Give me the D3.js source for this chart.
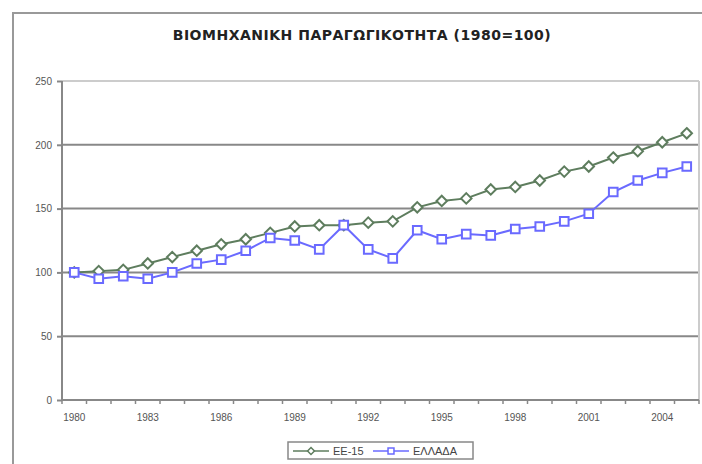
<!DOCTYPE html>
<html>
<head>
<meta charset="utf-8">
<script src="https://cdn.jsdelivr.net/npm/d3@7"></script>
<style>
  body { margin: 0; background: #fff; }
  svg text { font-family: "Liberation Sans", Arial, sans-serif; fill: #333; }
</style>
</head>
<body>
<svg id="chart" width="702" height="464"></svg>
<script>
// years on the category axis
var years = d3.range(1980, 2006);
// index values, 1980 = 100
var eu15 = [100, 101, 102, 107, 112, 117, 122, 126, 131, 136, 137, 137, 139, 140,
            151, 156, 158, 165, 167, 172, 179, 183, 190, 195, 202, 209];
var greece = [100, 95, 97, 95, 100, 107, 110, 117, 127, 125, 118, 137, 118, 111,
              133, 126, 130, 129, 134, 136, 140, 146, 163, 172, 178, 183];
var yTicks = [0, 50, 100, 150, 200, 250];
var seriesNames = ["ΕΕ-15", "ΕΛΛΑΔΑ"];
var title = "ΒΙΟΜΗΧΑΝΙΚΗ ΠΑΡΑΓΩΓΙΚΟΤΗΤΑ (1980=100)";

var svg = d3.select("#chart");
var plotLeft = 62, plotRight = 699, plotTop = 81, plotBottom = 400;

// outer chart border
svg.append("rect").attr("x", 13).attr("y", 13).attr("width", 720).attr("height", 480)
    .attr("fill", "none").attr("stroke", "#999").attr("stroke-width", 2);

svg.append("text").attr("x", 362).attr("y", 40).attr("text-anchor", "middle")
    .style("font-family", "'DejaVu Sans', sans-serif")
    .style("font-size", "14px").style("font-weight", "bold").style("fill", "#222")
    .style("letter-spacing", "0.5px")
    .text(title);

var x = d3.scaleBand().domain(years).range([plotLeft, plotRight]);
var y = d3.scaleLinear().domain([0, 250]).range([plotBottom, plotTop]);

// gridlines
svg.selectAll("line.grid").data(yTicks.slice(1)).enter().append("line")
    .attr("class", "grid")
    .attr("x1", plotLeft).attr("x2", plotRight)
    .attr("y1", function(d){ return y(d); }).attr("y2", function(d){ return y(d); })
    .attr("stroke", function(d){ return d === 250 ? "#ccc" : "#888"; })
    .attr("stroke-width", 2);
// right border of plot area
svg.append("line").attr("x1", plotRight).attr("x2", plotRight).attr("y1", plotTop).attr("y2", plotBottom)
    .attr("stroke", "#ccc").attr("stroke-width", 2);

// y axis
var yAxis = d3.axisLeft(y).tickValues(yTicks).tickSize(5).tickPadding(5);
var gy = svg.append("g").attr("transform", "translate(" + plotLeft + ",0)").call(yAxis);
gy.selectAll("text").style("font-size", "10px").style("fill", "#555");
gy.selectAll("line, path").attr("stroke", "#888").attr("stroke-width", 2);
gy.select("path").attr("d", "M0," + plotTop + "V" + plotBottom);

// x axis: ticks between categories, labels every 3 years
var step = x.step();
var gx = svg.append("g").attr("transform", "translate(0," + plotBottom + ")");
gx.append("line").attr("x1", plotLeft).attr("x2", plotRight).attr("stroke", "#888").attr("stroke-width", 2);
gx.selectAll("line.tk").data(d3.range(years.length + 1)).enter().append("line")
    .attr("class", "tk")
    .attr("x1", function(i){ return plotLeft + i * step; })
    .attr("x2", function(i){ return plotLeft + i * step; })
    .attr("y1", 0).attr("y2", 4).attr("stroke", "#888").attr("stroke-width", 1.5);
gx.selectAll("text").data(years.filter(function(d, i){ return i % 3 === 0; })).enter().append("text")
    .attr("x", function(d){ return x(d) + x.bandwidth() / 2; })
    .attr("y", 21).attr("text-anchor", "middle")
    .style("font-size", "10px").style("fill", "#555")
    .text(function(d){ return d; });

var cx = function(d, i){ return x(years[i]) + x.bandwidth() / 2; };
var line = d3.line().x(cx).y(function(d){ return y(d); });

var diamond = d3.symbol().type(d3.symbolDiamond2).size(70);
var square = d3.symbol().type(d3.symbolSquare2).size(95);

function drawSeries(values, color, symbol) {
    svg.append("path").datum(values).attr("d", line)
        .attr("fill", "none").attr("stroke", color).attr("stroke-width", 2);
    svg.selectAll(null).data(values).enter().append("path")
        .attr("d", symbol)
        .attr("transform", function(d, i){ return "translate(" + cx(d, i) + "," + y(d) + ")"; })
        .attr("fill", "#fff").attr("stroke", color).attr("stroke-width", 2);
}
drawSeries(eu15, "#5e7d5e", diamond);
drawSeries(greece, "#6a6aff", square);

// legend
var lg = svg.append("g");
lg.append("rect").attr("x", 288).attr("y", 442).attr("width", 185).attr("height", 17)
    .attr("fill", "#fff").attr("stroke", "#888").attr("stroke-width", 1.5);
var items = [
    { name: seriesNames[0], color: "#5e7d5e", sym: d3.symbol().type(d3.symbolDiamond2).size(30), x0: 293 },
    { name: seriesNames[1], color: "#6a6aff", sym: d3.symbol().type(d3.symbolSquare2).size(45), x0: 373 }
];
items.forEach(function(it){
    lg.append("line").attr("x1", it.x0).attr("x2", it.x0 + 36).attr("y1", 451).attr("y2", 451)
        .attr("stroke", it.color).attr("stroke-width", 1.5);
    lg.append("path").attr("d", it.sym).attr("transform", "translate(" + (it.x0 + 18) + ",451)")
        .attr("fill", "#fff").attr("stroke", it.color).attr("stroke-width", 1.5);
    lg.append("text").attr("x", it.x0 + 40).attr("y", 455).style("font-size", "11px").style("fill", "#444")
        .text(it.name);
});
</script>
</body>
</html>
